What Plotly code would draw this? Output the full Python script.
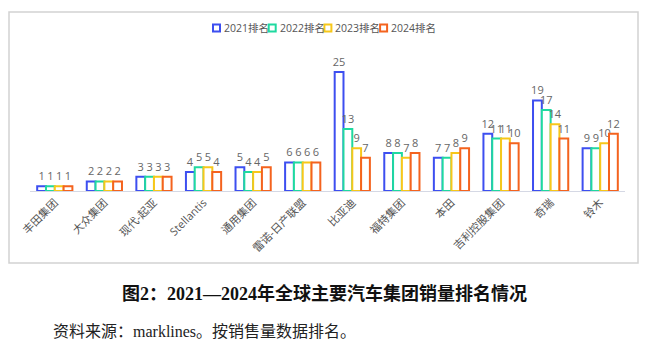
import plotly.graph_objects as go

categories = ["丰田集团", "大众集团", "现代-起亚", "Stellantis", "通用集团", "雷诺-日产联盟",
              "比亚迪", "福特集团", "本田", "吉利控股集团", "奇瑞", "铃木"]
series_names = ["2021排名", "2022排名", "2023排名", "2024排名"]
rank_2021 = [1, 2, 3, 4, 5, 6, 25, 8, 7, 12, 19, 9]
rank_2022 = [1, 2, 3, 5, 4, 6, 13, 8, 7, 11, 17, 9]
rank_2023 = [1, 2, 3, 5, 4, 6, 9, 7, 8, 11, 14, 10]
rank_2024 = [1, 2, 3, 4, 5, 6, 7, 8, 9, 10, 11, 12]
colors = ["#3d4ff0", "#1fd9a0", "#f7c71a", "#f4631e"]
series_values = [rank_2021, rank_2022, rank_2023, rank_2024]

W, H = 660, 352
ml, mr, mt, mb = 30, 35, 60, 161
pw, ph = W - ml - mr, H - mt - mb

def px_x(x):
    return (x - ml) / pw

def px_y(y):
    return (H - mb - y) / ph

fig = go.Figure()
for name, vals, col in zip(series_names, series_values, colors):
    fig.add_trace(go.Bar(
        x=categories, y=vals, name=name,
        marker=dict(color="white", line=dict(color=col, width=2)),
        text=vals, textposition="outside", cliponaxis=False,
        textfont=dict(size=11, color="#666666", family="Open Sans, Noto Sans CJK SC"),
        showlegend=False,
    ))

shapes = [dict(type="rect", xref="paper", yref="paper",
               x0=px_x(9), x1=px_x(638), y0=px_y(263), y1=px_y(12),
               line=dict(color="#d2d2d2", width=1.5), fillcolor="rgba(0,0,0,0)", layer="below")]
annotations = []
leg_x0, leg_step, leg_y = 213, 55.7, 28
for i, (name, col) in enumerate(zip(series_names, colors)):
    sx = leg_x0 + i * leg_step
    shapes.append(dict(type="rect", xref="paper", yref="paper",
                       x0=px_x(sx), x1=px_x(sx + 7), y0=px_y(leg_y + 3.5), y1=px_y(leg_y - 3.5),
                       line=dict(color=col, width=2), fillcolor="white"))
    annotations.append(dict(text=name, xref="paper", yref="paper", x=px_x(sx + 9), y=px_y(leg_y),
                            xanchor="left", yanchor="middle", showarrow=False,
                            font=dict(size=10.5, color="#555555", family="Open Sans, Noto Sans CJK SC")))

annotations.append(dict(text="<b>图2：2021—2024年全球主要汽车集团销量排名情况</b>",
                        xref="paper", yref="paper", x=px_x(324), y=px_y(293),
                        xanchor="center", yanchor="middle", showarrow=False,
                        font=dict(size=18, color="#111111", family="Liberation Serif, Noto Sans CJK SC")))
annotations.append(dict(text="资料来源：marklines。按销售量数据排名。",
                        xref="paper", yref="paper", x=px_x(51), y=px_y(331),
                        xanchor="left", yanchor="middle", showarrow=False,
                        font=dict(size=16, color="#222222", family="Liberation Serif, Noto Sans CJK SC")))

fig.update_layout(
    width=W, height=H, margin=dict(l=ml, r=mr, t=mt, b=mb),
    paper_bgcolor="white", plot_bgcolor="white",
    barmode="group", bargap=0.29, bargroupgap=0,
    uniformtext=dict(minsize=11, mode="show"),
    shapes=shapes, annotations=annotations, showlegend=False,
    xaxis=dict(showline=True, linecolor="#d5d8e4", linewidth=1, ticks="",
               tickangle=-45, tickfont=dict(size=11, color="#555555", family="Open Sans, Noto Sans CJK SC")),
    yaxis=dict(range=[0, 27.5], showgrid=False, showticklabels=False, zeroline=False, showline=False),
)
fig.write_html("out.html")
